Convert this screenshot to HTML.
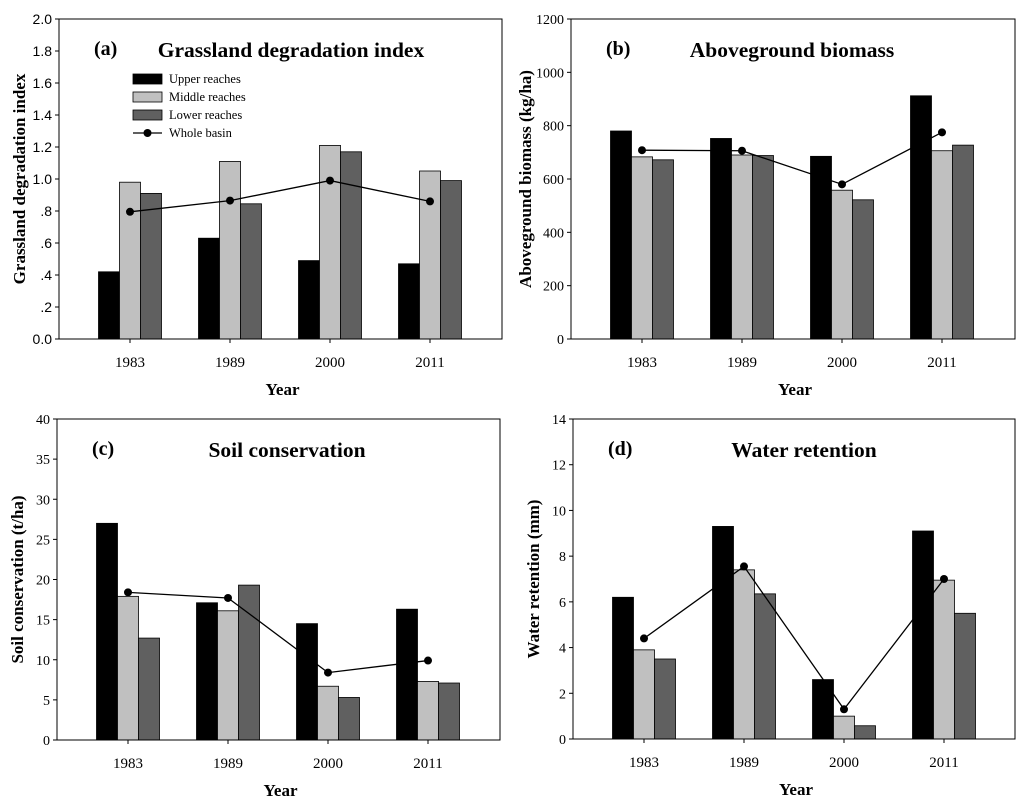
<!DOCTYPE html>
<html><head><meta charset="utf-8"><style>
body{margin:0;background:#fff}
svg{display:block}
</style></head><body>
<svg id="c" width="1024" height="805" xmlns="http://www.w3.org/2000/svg"></svg>
<script>
const years=["1983","1989","2000","2011"];
const aUpper=[0.42,0.63,0.49,0.47];
const aMiddle=[0.98,1.11,1.21,1.05];
const aLower=[0.91,0.845,1.17,0.99];
const aWhole=[0.795,0.865,0.99,0.86];
const aTicks=["0.0",".2",".4",".6",".8","1.0","1.2","1.4","1.6","1.8","2.0"];
const bUpper=[780,752,685,912];
const bMiddle=[683,690,558,706];
const bLower=[672,688,522,727];
const bWhole=[708,706,580,775];
const bTicks=["0","200","400","600","800","1000","1200"];
const cUpper=[27,17.1,14.5,16.3];
const cMiddle=[17.9,16.1,6.7,7.3];
const cLower=[12.7,19.3,5.3,7.1];
const cWhole=[18.4,17.7,8.4,9.9];
const cTicks=["0","5","10","15","20","25","30","35","40"];
const dUpper=[6.2,9.3,2.6,9.1];
const dMiddle=[3.9,7.4,1.0,6.95];
const dLower=[3.5,6.35,0.58,5.5];
const dWhole=[4.4,7.55,1.3,7.0];
const dTicks=["0","2","4","6","8","10","12","14"];

const NS="http://www.w3.org/2000/svg";
const svg=document.getElementById('c');
function mk(tag,attrs,parent,text){const e=document.createElementNS(NS,tag);for(const k in attrs)e.setAttribute(k,attrs[k]);if(text!==undefined)e.textContent=text;(parent||svg).appendChild(e);return e;}
const serif='"Liberation Serif",serif', sans='"Liberation Sans",sans-serif';

function panel(key,L,R,T,B,ticks,ymax,upper,middle,lower,whole,letter,title,ytitle,tickFont,legend,titleX,ytOff){
  const g=mk('g',{});
  
  
  const y=v=>B-(v/ymax)*(B-T);
  const x=i=>L+71+i*100;
  const bw=21;
  const series=[[upper,'#000','upper'],[middle,'#c0c0c0','middle'],[lower,'#606060','lower']];
  series.forEach((s,si)=>{
    s[0].forEach((v,i)=>{
      const r=mk('rect',{x:x(i)-1.5*bw+si*bw,y:y(v),width:bw,height:B-y(v),fill:s[1],stroke:'#000','stroke-width':0.8},g);
      
      
    });
  });
  const pts=whole.map((v,i)=>x(i)+','+y(v)).join(' ');
  const pl=mk('polyline',{points:pts,fill:'none',stroke:'#000','stroke-width':1.3},g);
  
  
  whole.forEach((v,i)=>{
    const c=mk('circle',{cx:x(i),cy:y(v),r:4,fill:'#000'},g);
    
    
  });
  const fr=mk('rect',{x:L,y:T,width:R-L,height:B-T,fill:'none',stroke:'#000','stroke-width':1},g);
  
  
  ticks.forEach((t,i)=>{
    const v=i*ymax/(ticks.length-1);
    mk('line',{x1:L-4,x2:L,y1:y(v),y2:y(v),stroke:'#000'},g);
    const tx=mk('text',{x:L-7,y:y(v)+5,'text-anchor':'end','font-family':tickFont,'font-size':14},g,t);
    
    
  });
  years.forEach((yr,i)=>{
    mk('line',{x1:x(i),x2:x(i),y1:B,y2:B+4,stroke:'#000'},g);
    const tx=mk('text',{x:x(i),y:B+28,'text-anchor':'middle','font-family':serif,'font-size':15},g,yr);
    
    
  });
  const xt=mk('text',{x:(L+R)/2+2,y:B+56,'text-anchor':'middle','font-family':serif,'font-size':17,'font-weight':'bold'},g,'Year');
  
  
  const cy=(T+B)/2;
  const ax=L-ytOff;
  const yt=mk('text',{x:ax,y:cy,'text-anchor':'middle','font-family':serif,'font-size':17,'font-weight':'bold',transform:'rotate(-90 '+ax+' '+cy+')'},g,ytitle);
  
  
  const lt=mk('text',{x:L+35,y:T+36,'font-family':serif,'font-size':20,'font-weight':'bold'},g,letter);
  
  
  const tt=mk('text',{x:titleX,y:T+38,'text-anchor':'middle','font-family':serif,'font-size':21.5,'font-weight':'bold'},g,title);
  
  
  if(legend){
    const lg=mk('g',{},g);
    
    
    const items=[['Upper reaches','#000'],['Middle reaches','#c0c0c0'],['Lower reaches','#606060']];
    items.forEach((it,i)=>{
      const yy=T+55+i*18;
      const e=mk('rect',{x:L+74,y:yy,width:29,height:10,fill:it[1],stroke:'#000','stroke-width':0.8},lg);
      
      
      const t=mk('text',{x:L+110,y:yy+9,'font-family':serif,'font-size':12.5},lg,it[0]);
      
      
    });
    const yy=T+114;
    mk('line',{x1:L+74,x2:L+103,y1:yy,y2:yy,stroke:'#000','stroke-width':1.3},lg);
    mk('circle',{cx:L+88.5,cy:yy,r:4,fill:'#000'},lg);
    const t=mk('text',{x:L+110,y:yy+4,'font-family':serif,'font-size':12.5},lg,'Whole basin');
    
    
  }
}
panel('a',59,502,19,339,aTicks,2.0,aUpper,aMiddle,aLower,aWhole,'(a)','Grassland degradation index','Grassland degradation index',sans,true,291,34);
panel('b',571,1015,19,339,bTicks,1200,bUpper,bMiddle,bLower,bWhole,'(b)','Aboveground biomass','Aboveground biomass (kg/ha)',serif,false,792,40);
panel('c',57,500,419,740,cTicks,40,cUpper,cMiddle,cLower,cWhole,'(c)','Soil conservation','Soil conservation (t/ha)',serif,false,287,34);
panel('d',573,1015,419,739,dTicks,14,dUpper,dMiddle,dLower,dWhole,'(d)','Water retention','Water retention (mm)',serif,false,804,34);
</script>
</body></html>
